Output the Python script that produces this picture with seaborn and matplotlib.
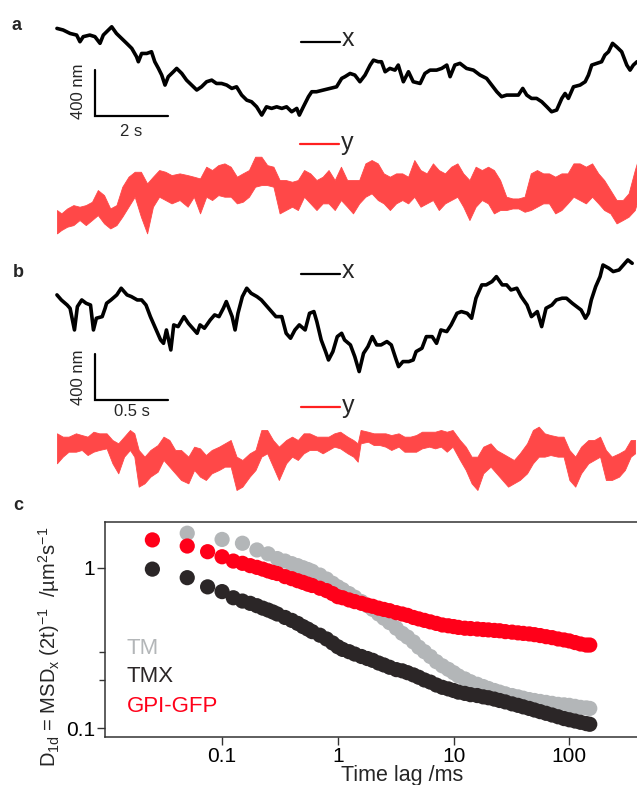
import numpy as np
import pandas as pd
import matplotlib
matplotlib.use("Agg")
import matplotlib.pyplot as plt
import seaborn as sns
from matplotlib.lines import Line2D
from matplotlib.ticker import FixedLocator, FixedFormatter, NullFormatter

# ---------------- data ----------------
# panel a : x trace (time s, position nm)
a_x_t = [0.00,0.17,0.36,0.54,0.63,0.72,0.90,1.04,1.18,1.27,1.41,1.50,1.63,1.77,1.91,2.05,2.18,2.23,2.32,2.46,
         2.59,2.68,2.78,2.87,2.96,3.05,3.19,3.28,3.42,3.55,3.69,3.83,3.96,4.10,4.24,4.37,4.51,4.65,4.79,4.92,
         5.06,5.20,5.33,5.47,5.61,5.74,5.88,6.02,6.16,6.29,6.43,6.57,6.64,6.75,6.89,6.98,7.11,7.30,7.48,7.66,7.80,
         7.89,8.03,8.16,8.30,8.44,8.58,8.67,8.80,8.89,8.99,9.12,9.26,9.35,9.49,9.63,9.76,9.95,10.08,10.22,10.40,
         10.54,10.68,10.77,10.90,11.04,11.22,11.41,11.59,11.77,11.91,12.05,12.18,12.32,12.50,12.64,12.76,12.87,
         13.00,13.14,13.28,13.42,13.55,13.69,13.83,13.92,14.01,14.15,14.33,14.47,14.56,14.65,14.79,14.92,15.01,
         15.11,15.22,15.33,15.47,15.61,15.70,15.79,15.89]
a_x_nm = [884,870,840,826,768,812,826,812,754,826,870,898,840,797,754,710,638,594,666,666,
          681,594,536,478,391,464,507,536,492,434,391,348,376,420,434,405,405,391,362,376,
          304,260,246,202,130,202,188,202,188,202,159,188,130,202,290,333,333,348,362,376,449,
          464,492,478,420,478,565,608,594,594,507,536,521,565,420,507,420,405,492,521,521,
          536,565,464,565,580,536,521,478,449,391,333,290,304,304,304,362,304,
          275,275,246,202,159,174,275,318,275,376,391,420,478,565,580,594,652,
          681,754,724,681,565,521,565,594]

# panel a : y trace (time s, upper / lower envelope nm)
a_y_t = [0.00,0.12,0.28,0.45,0.62,0.79,0.96,1.12,1.29,1.46,1.63,1.79,1.96,2.13,2.30,2.47,2.63,2.80,2.97,3.14,
         3.36,3.58,3.75,3.92,4.09,4.25,4.42,4.59,4.76,4.93,5.09,5.26,5.43,5.60,5.76,5.93,6.10,6.27,6.44,6.60,
         6.77,6.94,7.11,7.28,7.44,7.61,7.78,7.95,8.11,8.28,8.45,8.62,8.79,8.95,9.12,9.29,9.46,9.62,9.79,9.96,
         10.13,10.30,10.46,10.63,10.80,10.97,11.13,11.30,11.47,11.64,11.81,11.97,12.14,12.31,12.48,12.64,12.81,
         12.98,13.15,13.32,13.48,13.65,13.82,13.99,14.15,14.32,14.49,14.66,14.83,14.99,15.16,15.33,15.50,15.66,
         15.83,15.94]
a_y_hi = [-696,-725,-682,-653,-667,-653,-624,-522,-566,-682,-653,-493,-406,-363,-363,-464,-406,-348,-363,-392,
          -377,-392,-406,-421,-319,-348,-305,-290,-319,-406,-377,-348,-232,-232,-305,-319,-435,-435,-450,-435,
          -348,-377,-435,-406,-348,-435,-319,-435,-435,-435,-290,-261,-290,-377,-406,-377,-377,-406,-261,-348,
          -377,-290,-348,-377,-319,-290,-377,-435,-319,-348,-319,-348,-435,-580,-595,-595,-580,-377,-348,-377,
          -377,-406,-377,-377,-290,-290,-319,-290,-377,-435,-522,-609,-609,-551,-348,-232]
a_y_lo = [-899,-870,-841,-827,-783,-827,-783,-740,-812,-856,-827,-754,-667,-580,-754,-899,-667,-580,-609,-638,
          -609,-667,-580,-725,-580,-609,-566,-580,-580,-638,-624,-580,-493,-479,-479,-493,-725,-696,-667,-696,
          -580,-638,-696,-638,-638,-696,-609,-667,-725,-638,-580,-551,-609,-638,-696,-638,-609,-638,-580,-667,
          -638,-609,-696,-638,-609,-580,-667,-783,-667,-609,-638,-725,-696,-696,-682,-682,-711,-696,-667,-638,
          -638,-725,-696,-638,-580,-609,-638,-580,-638,-696,-725,-812,-783,-754,-696,-580]

# panel b : x trace
b_x_t = [0.00,0.03,0.07,0.09,0.12,0.14,0.17,0.20,0.23,0.25,0.27,0.31,0.33,0.34,0.37,0.41,0.44,0.48,0.51,0.55,
         0.58,0.61,0.64,0.67,0.71,0.73,0.75,0.78,0.80,0.83,0.87,0.90,0.93,0.96,0.98,1.01,1.05,1.08,1.11,1.14,
         1.16,1.20,1.22,1.24,1.27,1.30,1.33,1.37,1.40,1.44,1.47,1.50,1.54,1.57,1.60,1.63,1.66,1.70,1.73,1.76,
         1.78,1.81,1.84,1.86,1.89,1.92,1.95,
         1.97,2.01,2.04,2.07,2.10,2.13,2.16,2.19,2.22,2.26,2.29,2.32,2.34,2.37,2.41,2.44,2.46,2.50,2.53,2.57,
         2.60,2.63,2.67,2.70,2.74,2.77,2.81,2.84,2.87,2.91,2.94,2.98,3.01,3.05,3.08,3.11,3.15,3.18,3.22,3.25,
         3.29,3.32,3.35,3.39,3.42,3.46,3.49,3.53,3.56,3.59,3.62,3.64,3.66,3.69,3.72,3.74,3.78,3.81,3.85,3.88,
         3.91,3.94]
b_x_nm = [914,870,826,797,609,812,870,841,826,609,711,725,798,841,870,914,972,914,899,870,
          870,826,725,638,522,493,609,435,653,638,725,667,624,580,653,624,696,740,725,798,
          856,725,609,754,899,972,928,899,870,812,769,725,725,580,537,609,653,609,754,769,
          682,522,421,348,421,551,580,
          522,479,377,247,406,464,551,479,479,508,479,363,290,334,334,348,421,450,551,551,
          493,609,595,653,754,769,754,711,885,1001,1001,1030,1073,1001,1001,957,972,899,826,725,
          769,638,798,826,870,885,885,841,812,783,711,754,870,986,1073,1174,1146,1117,1131,1174,
          1218,1189]

# panel b : y trace (upper / lower envelope)
b_y_t = [0.00,0.04,0.08,0.13,0.17,0.21,0.25,0.29,0.34,0.38,0.42,0.46,0.50,0.53,0.56,0.60,0.64,0.69,0.73,0.77,
         0.81,0.85,0.90,0.94,0.98,1.02,1.06,1.11,1.15,1.19,1.23,1.27,1.32,1.36,1.40,1.44,1.48,1.52,1.57,1.61,
         1.65,1.69,1.73,1.78,1.82,1.86,1.90,1.94,1.99,2.03,2.06,2.08,2.13,2.17,2.21,2.25,2.29,2.34,2.38,2.42,
         2.46,2.50,2.55,2.59,2.63,2.67,2.71,2.76,2.80,2.84,2.88,2.92,2.97,3.01,3.05,3.09,3.13,3.17,3.22,3.26,
         3.30,3.34,3.38,3.43,3.47,3.51,3.55,3.59,3.64,3.68,3.72,3.76,3.80,3.85,3.89,3.93,3.96]
b_y_hi = [-290,-319,-319,-290,-305,-319,-276,-290,-290,-348,-377,-319,-261,-290,-435,-493,-435,-392,-319,-348,
          -435,-435,-493,-406,-421,-479,-435,-406,-377,-348,-493,-522,-464,-435,-261,-261,-348,-406,-348,-319,
          -348,-290,-290,-319,-319,-319,-290,-276,-319,-348,-377,-261,-276,-290,-290,-290,-305,-290,-319,-319,
          -305,-276,-276,-276,-261,-276,-261,-348,-406,-493,-493,-406,-377,-435,-464,-493,-522,-464,-377,-261,
          -232,-290,-305,-319,-319,-435,-493,-406,-348,-348,-319,-435,-493,-464,-435,-348,-348]
b_y_lo = [-551,-493,-450,-450,-435,-479,-450,-435,-421,-551,-638,-493,-435,-493,-754,-725,-667,-624,-522,-580,
          -638,-696,-725,-609,-667,-696,-638,-609,-580,-580,-783,-754,-667,-609,-493,-464,-580,-696,-551,-493,
          -522,-464,-435,-435,-464,-435,-406,-421,-464,-493,-537,-377,-363,-392,-392,-406,-435,-406,-450,-450,
          -450,-421,-406,-421,-406,-450,-406,-522,-609,-725,-783,-638,-580,-638,-696,-754,-725,-696,-638,-551,
          -493,-493,-479,-493,-493,-696,-754,-638,-551,-522,-493,-696,-696,-667,-609,-493,-464]

# panel c : D1d vs time lag (ms)
lag_short = [0.025, 0.05, 0.075, 0.1, 0.125, 0.15, 0.175, 0.2, 0.225, 0.25, 0.275, 0.3]
lag_long = [0.35, 0.4, 0.45, 0.5, 0.55, 0.6, 0.7, 0.8, 0.9, 1.0, 1.1, 1.25, 1.4, 1.6, 1.8, 2.0, 2.25, 2.5,
            2.8, 3.2, 3.6, 4.0, 4.5, 5.0, 5.6, 6.3, 7.1, 8.0, 9.0, 10, 11, 12.5, 14, 16, 18, 20, 22.5, 25,
            28, 32, 36, 40, 45, 50, 56, 63, 71, 80, 90, 100, 112, 125, 140, 150]
lag_tm_short = [0.05, 0.1, 0.15, 0.2, 0.25, 0.3]

d_tm = [1.64, 1.50, 1.42, 1.29, 1.22, 1.14,
        1.10, 1.06, 1.03, 1.0, 0.975, 0.95, 0.90, 0.85, 0.80, 0.76, 0.73, 0.69, 0.655, 0.615, 0.58, 0.55,
        0.515, 0.485, 0.455, 0.42, 0.39, 0.37, 0.345, 0.32, 0.30, 0.28, 0.26, 0.245, 0.233, 0.222, 0.212,
        0.203, 0.195, 0.188, 0.182, 0.177, 0.172, 0.168, 0.164, 0.16, 0.157, 0.154, 0.151, 0.149, 0.147,
        0.145, 0.143, 0.141, 0.14, 0.139, 0.137, 0.135, 0.134, 0.133]
d_tmx = [0.98, 0.867, 0.76, 0.71, 0.65, 0.62, 0.60, 0.58, 0.56, 0.545, 0.53, 0.515,
         0.49, 0.47, 0.45, 0.43, 0.415, 0.40, 0.38, 0.36, 0.34, 0.322, 0.31, 0.30, 0.29, 0.28, 0.272, 0.265,
         0.255, 0.248, 0.24, 0.232, 0.228, 0.222, 0.215, 0.208, 0.2, 0.194, 0.186, 0.18, 0.176, 0.172, 0.168,
         0.165, 0.162, 0.16, 0.157, 0.155, 0.152, 0.149, 0.146, 0.142, 0.139, 0.136, 0.133, 0.13, 0.127,
         0.124, 0.121, 0.118, 0.115, 0.113, 0.111, 0.109, 0.107, 0.106]
d_gpi = [1.49, 1.365, 1.258, 1.17, 1.10, 1.065, 1.03, 1.005, 0.98, 0.955, 0.935, 0.92,
         0.88, 0.855, 0.83, 0.81, 0.79, 0.775, 0.745, 0.72, 0.69, 0.66, 0.65, 0.63, 0.615, 0.60, 0.585, 0.575,
         0.56, 0.55, 0.54, 0.525, 0.515, 0.505, 0.49, 0.48, 0.47, 0.46, 0.45, 0.44, 0.435, 0.43, 0.425, 0.42,
         0.418, 0.415, 0.412, 0.41, 0.407, 0.405, 0.40, 0.397, 0.393, 0.39, 0.387, 0.383, 0.378, 0.372,
         0.367, 0.36, 0.355, 0.35, 0.342, 0.335, 0.33, 0.33]

series_names = ["TM", "TMX", "GPI-GFP"]
x_ticks = [0.1, 1, 10, 100]
x_ticklabels = ["0.1", "1", "10", "100"]
y_ticks = [0.1, 1]
y_ticklabels = ["0.1", "1"]

# ---------------- style ----------------
sns.set_theme(style="white")
plt.rcParams['font.family'] = ['Liberation Sans', 'DejaVu Sans']
plt.rcParams['mathtext.fontset'] = 'custom'
plt.rcParams['mathtext.rm'] = 'Liberation Sans'
plt.rcParams['mathtext.it'] = 'Liberation Sans:italic'
plt.rcParams['mathtext.default'] = 'regular'

RED_TRACE = '#ff4848'
C_TM = '#b3b6b8'
C_TMX = '#2b2627'
C_GPI = '#ff0019'

W, H = 637, 785
fig = plt.figure(figsize=(W / 100, H / 100), dpi=100)


def box(x0, y0, x1, y1):
    return [x0 / W, 1 - y1 / H, (x1 - x0) / W, (y1 - y0) / H]


def ftext(x, y, s, **kw):
    fig.text(x / W, 1 - y / H, s, **kw)


def fline(x0, x1, y, **kw):
    fig.add_artist(Line2D([x0 / W, x1 / W], [1 - y / H, 1 - y / H],
                          transform=fig.transFigure, **kw))


# ---------------- panel a ----------------
axa = fig.add_axes(box(0, 0, 637, 245))
sns.lineplot(x=a_x_t, y=a_x_nm, ax=axa, color='black', linewidth=2.6,
             estimator=None, sort=False)
axa.fill_between(a_y_t, a_y_lo, a_y_hi, color=RED_TRACE, linewidth=0.6)
axa.set_xlim(-1.56, 15.89)
axa.set_ylim(-1000, 1131)
axa.axis('off')
# scale bar: 2 s, 400 nm
sb_t0, sb_nm0 = 1.04, 122
axa.plot([sb_t0, sb_t0, sb_t0 + 2.0], [sb_nm0 + 400, sb_nm0, sb_nm0], color='black', lw=1.6,
         solid_joinstyle='miter')

# ---------------- panel b ----------------
axb = fig.add_axes(box(0, 245, 637, 500))
sns.lineplot(x=b_x_t, y=b_x_nm, ax=axb, color='black', linewidth=2.6,
             estimator=None, sort=False)
axb.fill_between(b_y_t, b_y_lo, b_y_hi, color=RED_TRACE, linewidth=0.6)
axb.set_xlim(-0.390, 3.973)
axb.set_ylim(-870, 1348)
axb.axis('off')
sbb_t0, sbb_nm0 = 0.26, 0
axb.plot([sbb_t0, sbb_t0, sbb_t0 + 0.5], [sbb_nm0 + 400, sbb_nm0, sbb_nm0], color='black', lw=1.6,
         solid_joinstyle='miter')

# ---------------- panel c ----------------
axc = fig.add_axes(box(105.3, 522, 637, 737))
lag_rb = lag_short + lag_long
lag_tm = lag_tm_short + lag_long
ms = 120
sns.scatterplot(x=lag_tm, y=d_tm, ax=axc, color=C_TM, s=ms, linewidth=0, edgecolor='none', zorder=2)
sns.scatterplot(x=lag_rb, y=d_tmx, ax=axc, color=C_TMX, s=ms, linewidth=0, edgecolor='none', zorder=3)
sns.scatterplot(x=lag_rb, y=d_gpi, ax=axc, color=C_GPI, s=ms, linewidth=0, edgecolor='none', zorder=4)
axc.set_xscale('log')
axc.set_yscale('log')
axc.set_xlim(0.0098, 384)
axc.set_ylim(0.0883, 1.926)
axc.xaxis.set_major_locator(FixedLocator(x_ticks))
axc.xaxis.set_major_formatter(FixedFormatter(x_ticklabels))
axc.xaxis.set_minor_locator(FixedLocator([]))
axc.yaxis.set_major_locator(FixedLocator(y_ticks))
axc.yaxis.set_major_formatter(FixedFormatter(y_ticklabels))
axc.yaxis.set_minor_locator(FixedLocator([0.2, 0.3]))
axc.yaxis.set_minor_formatter(NullFormatter())
for side in ['left', 'bottom', 'top']:
    axc.spines[side].set_visible(True)
    axc.spines[side].set_color('#333333')
    axc.spines[side].set_linewidth(1.1)
axc.spines['right'].set_visible(False)
axc.tick_params(which='both', direction='out', bottom=True, left=True, top=False, right=False,
                color='#333333', width=1.0, labelsize=15, labelcolor='black', pad=1.5)
axc.tick_params(which='major', length=6)
axc.tick_params(which='minor', length=4)
axc.set_xlabel('')
axc.set_ylabel('')

# ---------------- texts ----------------
ftext(17, 25, 'a', fontsize=13, fontweight='bold', ha='center', va='center')
ftext(18, 273, 'b', fontsize=13, fontweight='bold', ha='center', va='center')
ftext(18, 505, 'c', fontsize=13, fontweight='bold', ha='center', va='center')

fline(301, 340, 41.5, color='black', lw=1.6)
ftext(342, 39, 'x', fontsize=18, ha='left', va='center')
fline(300, 339, 143.5, color='#ff2020', lw=1.6)
ftext(341, 143, 'y', fontsize=18, ha='left', va='center')
fline(301, 340, 274, color='black', lw=1.6)
ftext(342, 271.5, 'x', fontsize=18, ha='left', va='center')
fline(301, 340, 406.5, color='#ff2020', lw=1.6)
ftext(342, 406, 'y', fontsize=18, ha='left', va='center')

ftext(78.5, 91, '400 nm', fontsize=12, rotation=90, ha='center', va='center')
ftext(131, 132, '2 s', fontsize=12, ha='center', va='center')
ftext(78.5, 377, '400 nm', fontsize=12, rotation=90, ha='center', va='center')
ftext(132, 412, '0.5 s', fontsize=12, ha='center', va='center')

ftext(126.5, 648, series_names[0], fontsize=16, color=C_TM, ha='left', va='center')
ftext(126.5, 677, series_names[1], fontsize=16, color=C_TMX, ha='left', va='center')
ftext(126.5, 706, series_names[2], fontsize=16, color=C_GPI, ha='left', va='center')

ftext(402, 775, 'Time lag /ms', fontsize=15.5, ha='center', va='center')
ftext(49, 647, r'D$_{1d}$ = MSD$_{x}$ (2t)$^{-1}$  /µm$^{2}$s$^{-1}$',
      fontsize=14.5, rotation=90, ha='center', va='center')

fig.savefig('out.png', dpi=100)
